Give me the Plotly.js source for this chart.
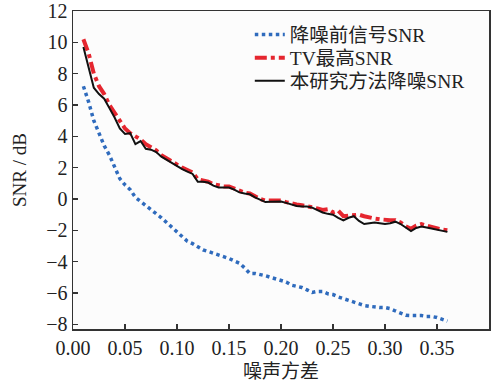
<!DOCTYPE html>
<html><head><meta charset="utf-8">
<script src="https://cdn.plot.ly/plotly-3.0.1.min.js"></script>
<style>html,body{margin:0;padding:0;background:#fff}</style>
</head><body><div id="chart" style="width:502px;height:386px"></div>
<script>
const xVals = [0.010,0.015,0.020,0.025,0.030,0.035,0.040,0.045,0.050,0.055,0.060,0.065,0.070,0.075,0.080,0.085,0.090,0.095,0.100,0.105,0.110,0.115,0.120,0.125,0.130,0.135,0.140,0.145,0.150,0.155,0.160,0.165,0.170,0.175,0.180,0.185,0.190,0.195,0.200,0.205,0.210,0.215,0.220,0.225,0.230,0.235,0.240,0.245,0.250,0.255,0.260,0.265,0.270,0.275,0.280,0.285,0.290,0.295,0.300,0.305,0.310,0.315,0.320,0.325,0.330,0.335,0.340,0.345,0.350,0.355,0.360];
const snrBefore = [7.2,6.2,5.0,4.2,3.4,2.8,2.0,1.3,0.9,0.6,0.1,-0.15,-0.45,-0.7,-0.9,-1.2,-1.5,-1.8,-2.1,-2.4,-2.7,-2.85,-3.05,-3.25,-3.35,-3.45,-3.6,-3.7,-3.8,-3.95,-4.1,-4.4,-4.75,-4.75,-4.8,-4.9,-5.0,-5.1,-5.15,-5.3,-5.5,-5.55,-5.65,-5.8,-5.97,-5.9,-5.9,-6.05,-6.1,-6.25,-6.36,-6.45,-6.55,-6.7,-6.8,-6.85,-6.9,-6.93,-6.93,-7.0,-7.15,-7.3,-7.42,-7.44,-7.44,-7.44,-7.5,-7.5,-7.57,-7.7,-7.8];
const snrTV = [10.2,9.3,8.0,7.2,6.7,6.0,5.5,5.0,4.5,4.2,4.0,3.8,3.5,3.3,3.1,2.8,2.6,2.35,2.2,2.0,1.85,1.7,1.25,1.2,1.1,0.95,0.85,0.8,0.8,0.65,0.5,0.4,0.35,0.15,0.0,-0.1,-0.1,-0.1,-0.1,-0.2,-0.3,-0.35,-0.4,-0.45,-0.5,-0.6,-0.7,-0.65,-0.85,-0.75,-1.1,-1.05,-1.0,-1.0,-1.1,-1.2,-1.25,-1.3,-1.35,-1.35,-1.35,-1.5,-1.75,-1.9,-1.7,-1.6,-1.7,-1.8,-1.85,-1.95,-2.0];
const snrOurs = [9.7,8.3,7.1,6.7,6.4,5.8,5.2,4.5,4.15,4.2,3.5,3.7,3.2,3.15,3.0,2.7,2.5,2.25,2.1,1.9,1.75,1.6,1.1,1.1,1.05,0.85,0.73,0.75,0.73,0.6,0.42,0.35,0.3,0.1,-0.05,-0.2,-0.18,-0.16,-0.16,-0.25,-0.35,-0.45,-0.48,-0.48,-0.55,-0.7,-0.86,-0.95,-1.0,-1.2,-1.37,-1.2,-1.1,-1.4,-1.6,-1.55,-1.5,-1.55,-1.6,-1.55,-1.45,-1.6,-1.85,-2.05,-1.85,-1.76,-1.82,-1.88,-1.95,-2.02,-2.1];
const seriesNames = ['降噪前信号SNR','TV最高SNR','本研究方法降噪SNR'];
const xTickVals = [0,0.05,0.1,0.15,0.2,0.25,0.3,0.35,0.4];
const xTickText = ['0.00','0.05','0.10','0.15','0.20','0.25','0.30','0.35','0.40'];
const yTickVals = [-8,-6,-4,-2,0,2,4,6,8,10,12];

const FONT = '"Liberation Serif", "Times New Roman", "Noto Sans CJK SC", serif';
const traces = [
  {x:xVals, y:snrBefore, name:seriesNames[0], legend:'legend', mode:'lines', line:{color:'#2f6bbd', width:3.5, dash:'dot'}},
  {x:xVals, y:snrTV, name:seriesNames[1], legend:'legend2', mode:'lines', line:{color:'#e5262f', width:4, dash:'dashdot'}},
  {x:xVals, y:snrOurs, name:seriesNames[2], legend:'legend3', mode:'lines', line:{color:'#111111', width:2}}
];
const axisCommon = {showline:true, linecolor:'#333', linewidth:1.5, mirror:true, ticks:'inside', ticklen:5, tickcolor:'#333', tickwidth:1.5, showgrid:false, zeroline:false, tickfont:{family:FONT, size:20, color:'#222'}};
const legendCommon = {x:0.425, xanchor:'left', yanchor:'middle', bgcolor:'rgba(0,0,0,0)', borderwidth:0,
    font:{family:FONT, size:19.5, color:'#222'}};
const layout = {
  width:502, height:386,
  margin:{l:73, r:13, t:11, b:57},
  paper_bgcolor:'#ffffff', plot_bgcolor:'#fcfcfc',
  font:{family:FONT, size:19, color:'#222'},
  xaxis:Object.assign({}, axisCommon, {range:[0,0.4], tickvals:xTickVals, ticktext:xTickText,
    title:{text:'噪声方差', font:{family:FONT, size:19, color:'#222'}, standoff:7}}),
  yaxis:Object.assign({}, axisCommon, {range:[-8.3,12], tickvals:yTickVals,
    title:{text:'SNR / dB', font:{family:FONT, size:19, color:'#222'}, standoff:14}}),
  legend:Object.assign({}, legendCommon, {y:0.925}),
  legend2:Object.assign({}, legendCommon, {y:0.852}),
  legend3:Object.assign({}, legendCommon, {y:0.780}),
  showlegend:true
};
Plotly.newPlot('chart', traces, layout, {displayModeBar:false, staticPlot:true});
</script></body></html>
